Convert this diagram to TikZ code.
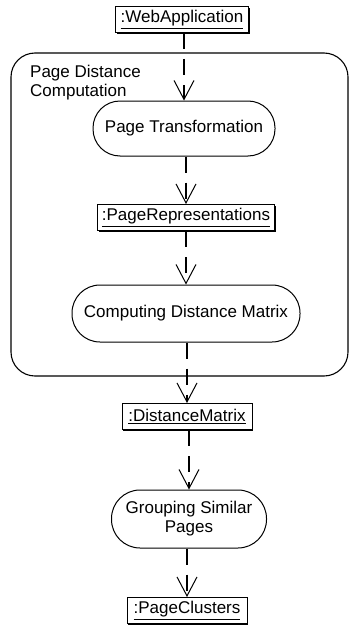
\documentclass[tikz,border=0pt]{standalone}
\usepackage{fontspec}
\setmainfont{Liberation Sans}
\usetikzlibrary{arrows.meta,shadows}
\begin{document}
\begin{tikzpicture}[x=1pt,y=-1pt,
  every node/.style={font=\fontsize{17}{19}\selectfont},
  obj/.style={draw, line width=1pt, fill=white, inner sep=0pt, minimum height=26pt,
    drop shadow={shadow xshift=1.2pt, shadow yshift=-1.2pt, opacity=1, fill=black}},
  act/.style={draw, line width=1pt, inner sep=0pt, align=center},
  flow/.style={line width=1.7pt, dash pattern=on 16pt off 10pt,
    -{Straight Barb[length=19pt,width=20pt,line width=1pt]}},
]
\useasboundingbox (0,0) rectangle (351,634);
\draw[line width=1.1pt, rounded corners=24pt] (11,53) rectangle (348,376);
\node[anchor=north west, align=left, inner sep=0pt] (lbl) at (30,65) {Page Distance\\Computation};
\node[obj, minimum width=133pt] (wa) at (182,19.5) {\underline{:WebApplication}};
\node[act, minimum width=182pt, minimum height=55pt, rounded corners=27pt] (pt) at (184,128.5) {Page Transformation};
\node[obj, minimum width=177pt] (pr) at (186,217.5) {\underline{:PageRepresentations}};
\node[act, minimum width=228pt, minimum height=57pt, rounded corners=28pt] (cdm) at (186,313.5) {Computing Distance Matrix};
\node[obj, minimum width=130pt] (dm) at (187,416.5) {\underline{:DistanceMatrix}};
\node[act, minimum width=155pt, minimum height=58pt, rounded corners=28.5pt] (gsp) at (189,519) {Grouping Similar\\Pages};
\node[obj, minimum width=120pt] (pc) at (187,610.5) {\underline{:PageClusters}};
\draw[flow] (wa.south -| pt.north) -- (pt.north);
\draw[flow] (pt.south -| pr.north) -- (pr.north);
\draw[flow] (pr.south -| cdm.north) -- (cdm.north);
\draw[flow] (cdm.south -| dm.north) -- (dm.north);
\draw[flow] (dm.south -| gsp.north) -- (gsp.north);
\draw[flow] (gsp.south -| pc.north) -- (pc.north);
\end{tikzpicture}
\end{document}
